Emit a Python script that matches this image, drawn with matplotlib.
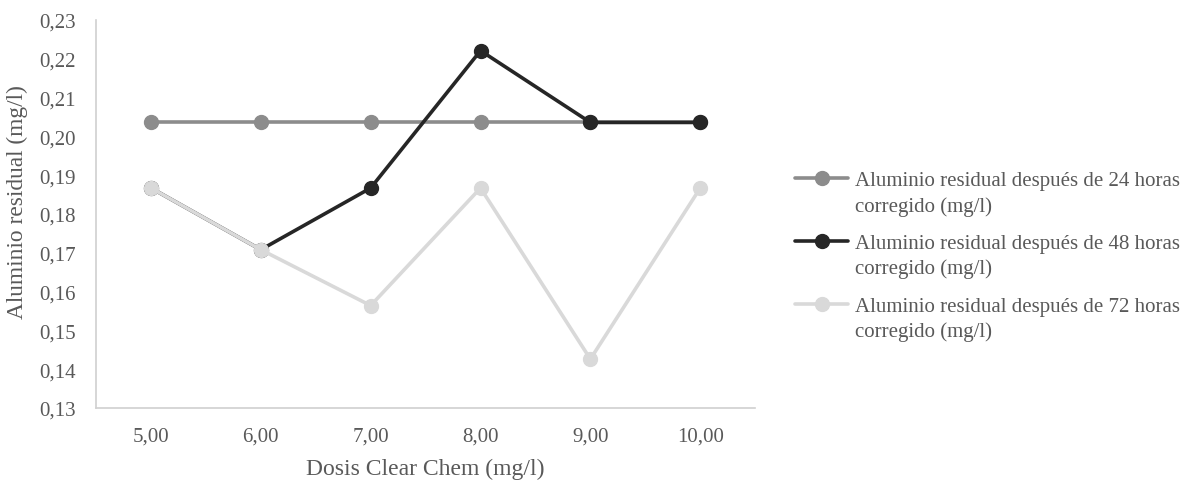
import matplotlib
matplotlib.use("Agg")
import matplotlib.pyplot as plt

plt.rcParams["font.family"] = ["Liberation Serif", "DejaVu Serif"]

dosis = ["5,00", "6,00", "7,00", "8,00", "9,00", "10,00"]
al_24h = [0.2036, 0.2036, 0.2036, 0.2036, 0.2036, 0.2036]
al_48h = [0.1867, 0.1708, 0.1867, 0.2221, 0.2036, 0.2036]
al_72h = [0.1867, 0.1708, 0.1564, 0.1867, 0.1426, 0.1867]

labels = [
    "Aluminio residual después de 24 horas\ncorregido (mg/l)",
    "Aluminio residual después de 48 horas\ncorregido (mg/l)",
    "Aluminio residual después de 72 horas\ncorregido (mg/l)",
]
colors = ["#8c8c8c", "#262626", "#d9d9d9"]
yticks = [0.13, 0.14, 0.15, 0.16, 0.17, 0.18, 0.19, 0.20, 0.21, 0.22, 0.23]

text_color = "#595959"
fs = 15

fig = plt.figure(figsize=(11.93, 4.81), dpi=100)
ax = fig.add_axes([0.0805, 0.1497, 0.5525, 0.8066])

x = list(range(len(dosis)))
# draw the 72h series first so the darker series sit on top
series = [al_24h, al_48h, al_72h]
order = [2, 0, 1]
handles = {}
for i in order:
    (ln,) = ax.plot(x, series[i], color=colors[i], lw=2.6, marker="o",
                    markersize=10, label=labels[i], solid_capstyle="round",
                    zorder=2 + i)
    handles[i] = ln

ax.set_xlim(-0.5, len(dosis) - 0.5)
ax.set_ylim(0.13, 0.23)
ax.set_xticks(x)
ax.set_xticklabels(dosis)
ax.set_yticks(yticks)
ax.set_yticklabels([f"{v:.2f}".replace(".", ",") for v in yticks])
ax.tick_params(length=0, labelsize=fs, colors=text_color)
ax.tick_params(axis="y", pad=14.4)
ax.tick_params(axis="x", pad=13)

for s in ["top", "right"]:
    ax.spines[s].set_visible(False)
for s in ["left", "bottom"]:
    ax.spines[s].set_color("#d0d0d0")
    ax.spines[s].set_linewidth(1.2)

ax.set_xlabel("Dosis Clear Chem (mg/l)", fontsize=17, color=text_color, labelpad=9)
ax.set_ylabel("Aluminio residual (mg/l)", fontsize=16.8, color=text_color, labelpad=8)
ax.yaxis.label.set_y(0.533)

leg = fig.legend([handles[0], handles[1], handles[2]], labels,
                 loc="upper left", bbox_to_anchor=(795 / 1193, 1 - 172 / 481),
                 frameon=False, fontsize=fs, handlelength=2.55,
                 handletextpad=0.35, labelspacing=0.87, borderpad=0,
                 borderaxespad=0)
for t in leg.get_texts():
    t.set_color(text_color)
    t.set_linespacing(1.4)
for col in leg._legend_handle_box.get_children():
    for entry in col.get_children():
        entry.align = "top"

fig.savefig("out.png", dpi=100)
